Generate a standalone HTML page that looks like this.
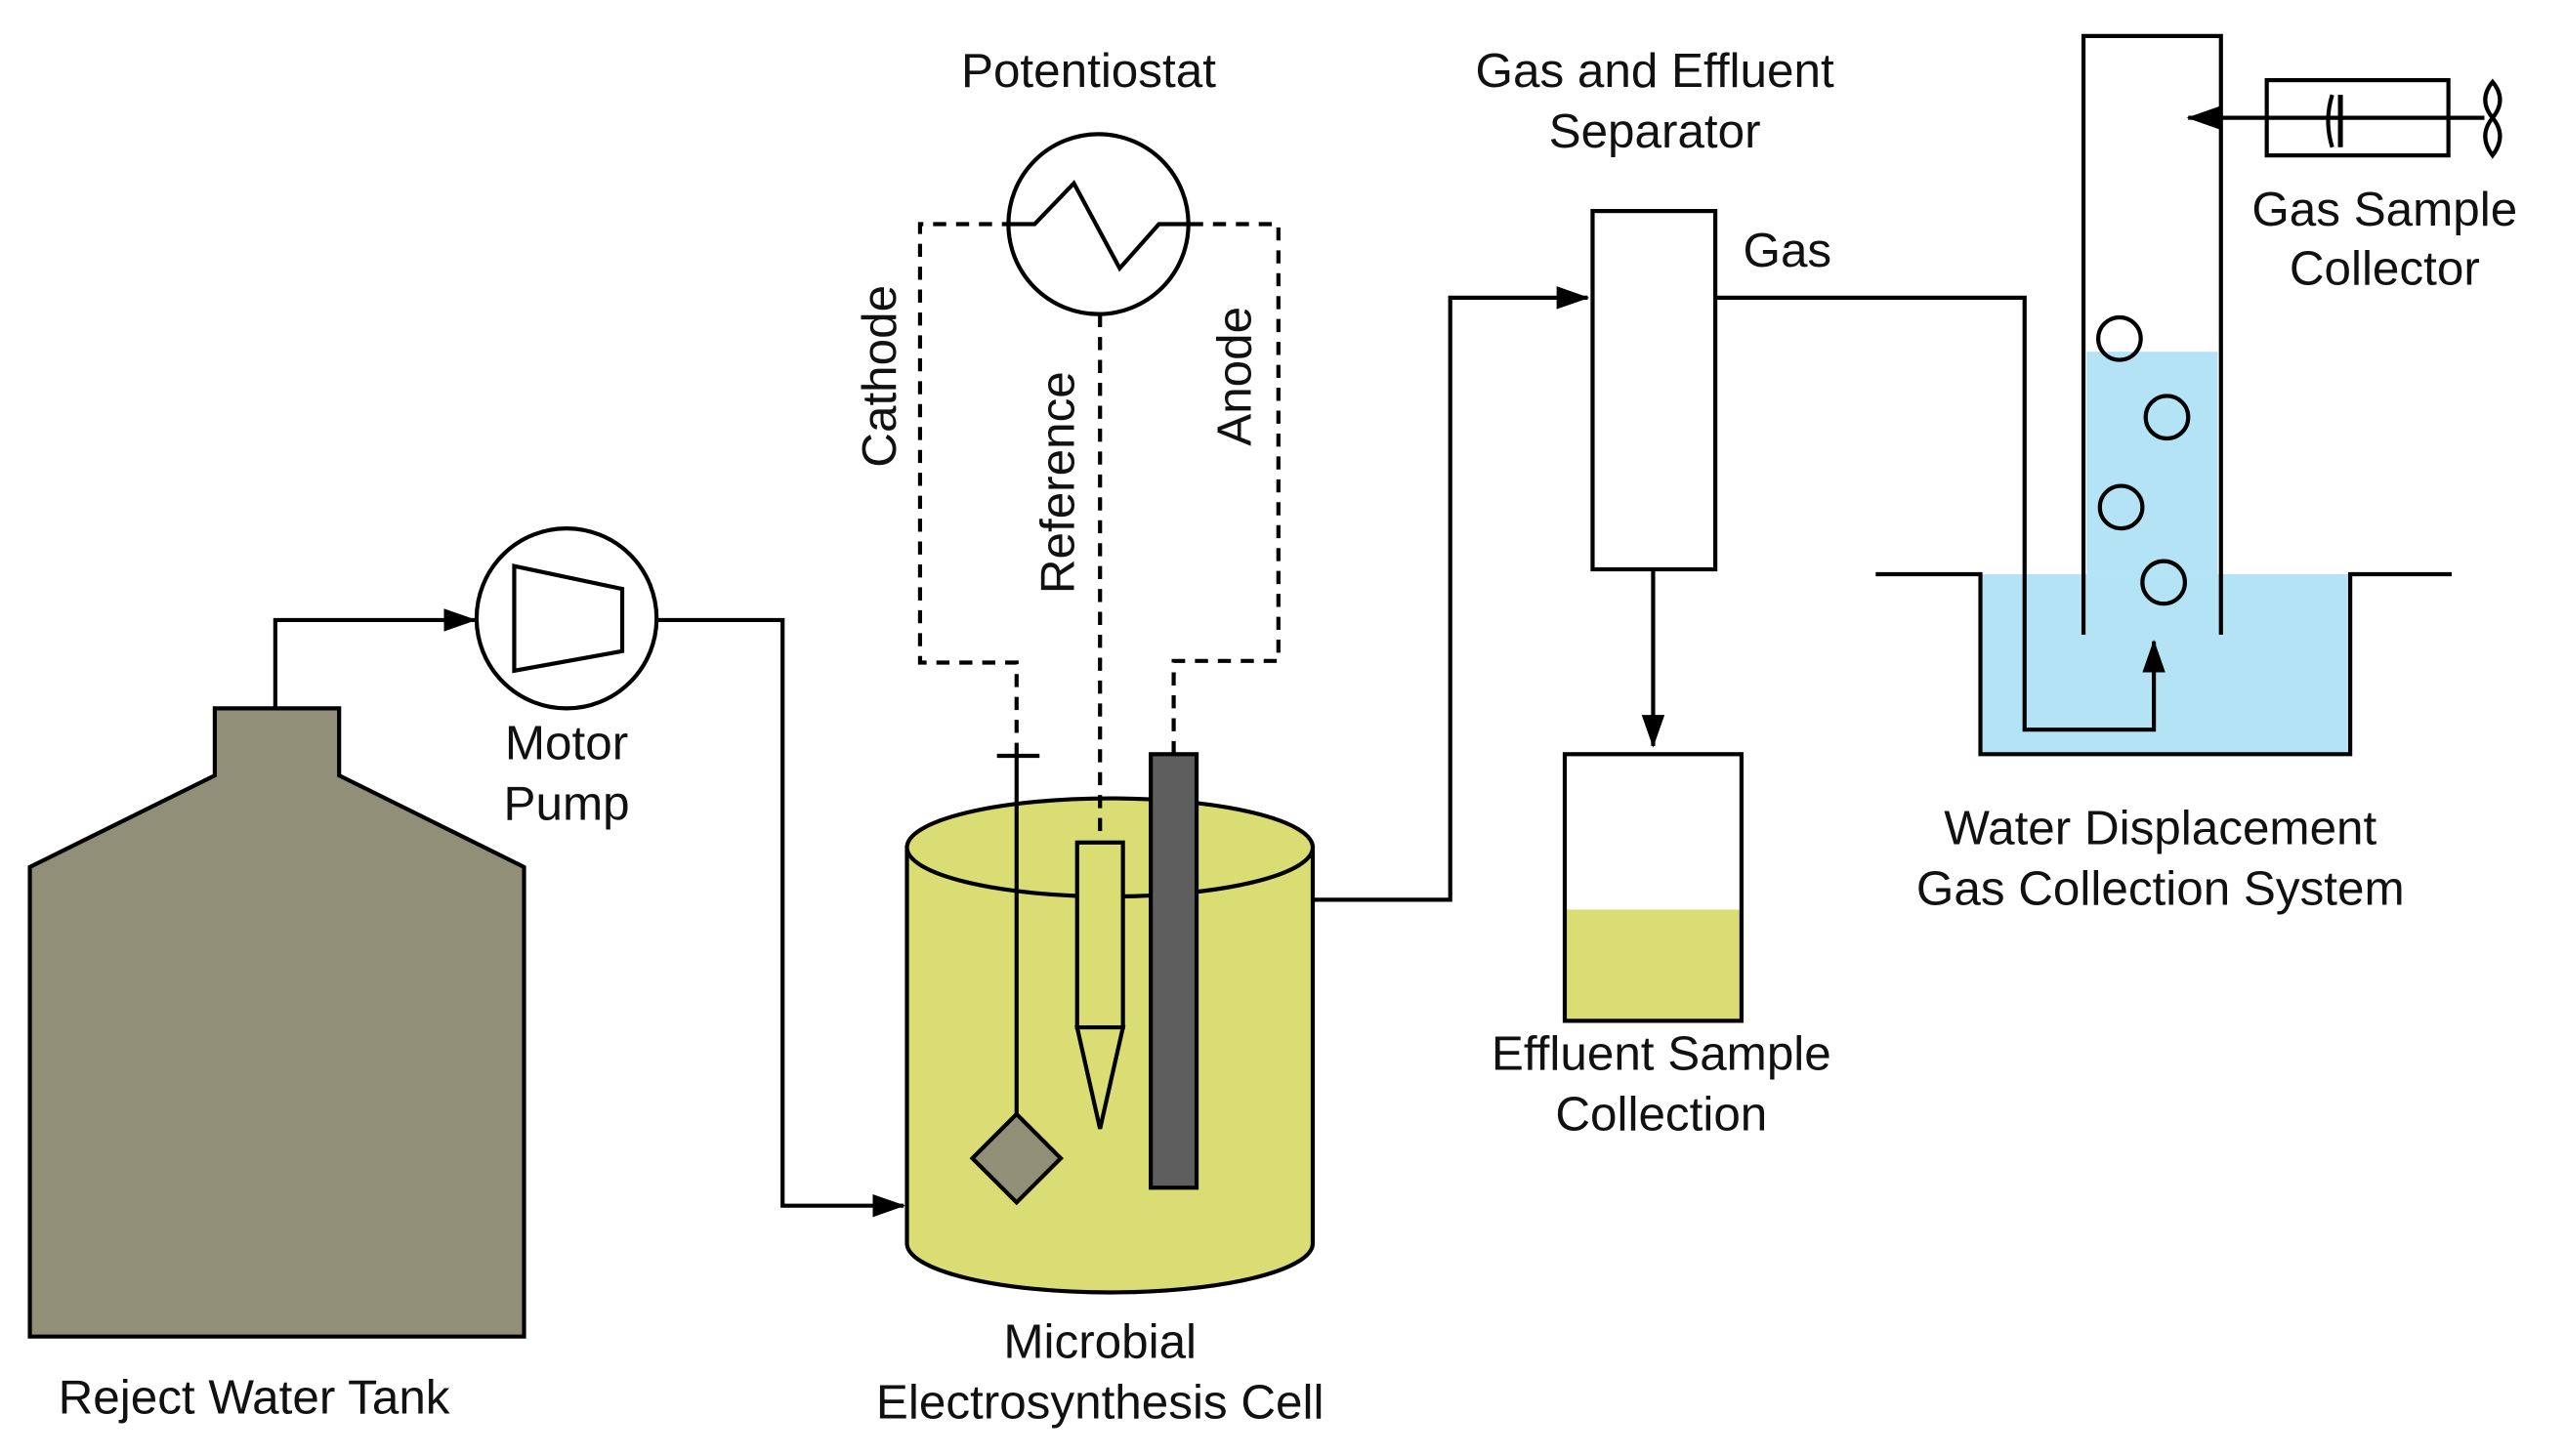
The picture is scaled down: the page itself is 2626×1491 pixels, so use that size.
<!DOCTYPE html>
<html><head><meta charset="utf-8"><style>
html,body{margin:0;padding:0;background:#fff}
svg{display:block}
text{font-family:"Liberation Sans",sans-serif;font-size:29.5px;fill:#111;text-anchor:middle}
</style></head><body>
<svg width="2626" height="1491" viewBox="0 0 1567 890" xmlns="http://www.w3.org/2000/svg">
<defs>
<marker id="ah" markerWidth="20" markerHeight="14" refX="19" refY="7" orient="auto" markerUnits="userSpaceOnUse"><path d="M0,0 L20,7 L0,14 z" fill="#000"/></marker>
</defs>
<g stroke="#000" stroke-width="2.5" fill="none">
<polygon points="18,530 131,474 131,433 207,433 207,474 320,530 320,817 18,817" fill="#918f78"/>
<polyline points="168,433 168,379 290,379" marker-end="url(#ah)"/>
<circle cx="346" cy="378" r="55" fill="#fff"/>
<polygon points="314,346 380,360 380,398 314,410"/>
<polyline points="402,379 478,379 478,737 552,737" marker-end="url(#ah)"/>
<path d="M554,518 L554,760 A124,30 0 0 0 802,760 L802,518 Z" fill="#dadd73"/>
<ellipse cx="678" cy="518" rx="124" ry="30" fill="#dadd73"/>
<line x1="621" y1="462" x2="621" y2="690"/>
<line x1="609" y1="462" x2="635" y2="462"/>
<polygon points="621,681 648,708 621,735 594,708" fill="#918f78"/>
<rect x="658" y="515" width="28" height="113" fill="#dadd73"/>
<polygon points="658,628 686,628 672,690" fill="#dadd73"/>
<rect x="703" y="461" width="28" height="265" fill="#5e5e5e"/>
<g stroke-dasharray="8,6">
<polyline points="621,462 621,405 562,405 562,137 615,137"/>
<polyline points="717,461 717,404 781,404 781,137 727,137"/>
<line x1="672" y1="192" x2="672" y2="515"/>
</g>
<circle cx="671" cy="137" r="55" fill="#fff"/>
<polyline points="615,137 632,137 656,112 684,164 708,137 727,137"/>
<polyline points="802,550 886,550 886,182 970,182" marker-end="url(#ah)"/>
<rect x="973" y="129" width="75" height="219" fill="#fff"/>
<line x1="1010" y1="348" x2="1010" y2="456" marker-end="url(#ah)"/>
<rect x="956" y="556" width="108" height="68" fill="#dadd73" stroke="none"/>
<rect x="956" y="461" width="108" height="163"/>
<rect x="1210" y="351" width="226" height="110" fill="#b3e3f5" stroke="none"/>
<rect x="1275" y="215" width="80" height="136" fill="#b3e3f5" stroke="none"/>
<polyline points="1146,351 1210,351 1210,461 1436,461 1436,351 1498,351"/>
<polyline points="1273,388 1273,22 1357,22 1357,388"/>
<polyline points="1048,182 1237,182 1237,446 1316,446 1316,392" marker-end="url(#ah)"/>
<circle cx="1295" cy="207" r="13"/>
<circle cx="1324" cy="255" r="13"/>
<circle cx="1296" cy="310" r="13"/>
<circle cx="1322" cy="356" r="13"/>
<rect x="1385" y="49" width="111" height="46" fill="#fff"/>
<line x1="1518" y1="72" x2="1337" y2="72" marker-end="url(#ah)"/>
<line x1="1430" y1="58" x2="1430" y2="90" stroke-width="3"/>
<path d="M1425,58 Q1420,74 1425,90"/>
<path d="M1523,50 Q1514,61 1523,72 Q1532,61 1523,50 Z M1523,72 Q1514,83 1523,95 Q1532,83 1523,72 Z"/>
</g>
<text x="155" y="864">Reject Water Tank</text>
<text x="346" y="464">Motor</text>
<text x="346" y="501">Pump</text>
<text x="672" y="830">Microbial</text>
<text x="672" y="867">Electrosynthesis Cell</text>
<text x="665" y="53">Potentiostat</text>
<text transform="translate(547,230) rotate(-90)">Cathode</text>
<text transform="translate(656,295) rotate(-90)">Reference</text>
<text transform="translate(764,230) rotate(-90)">Anode</text>
<text x="1011" y="53">Gas and Effluent</text>
<text x="1011" y="90">Separator</text>
<text x="1092" y="163">Gas</text>
<text x="1015" y="654">Effluent Sample</text>
<text x="1015" y="691">Collection</text>
<text x="1457" y="138">Gas Sample</text>
<text x="1457" y="174">Collector</text>
<text x="1320" y="516">Water Displacement</text>
<text x="1320" y="553">Gas Collection System</text>
</svg>
</body></html>
